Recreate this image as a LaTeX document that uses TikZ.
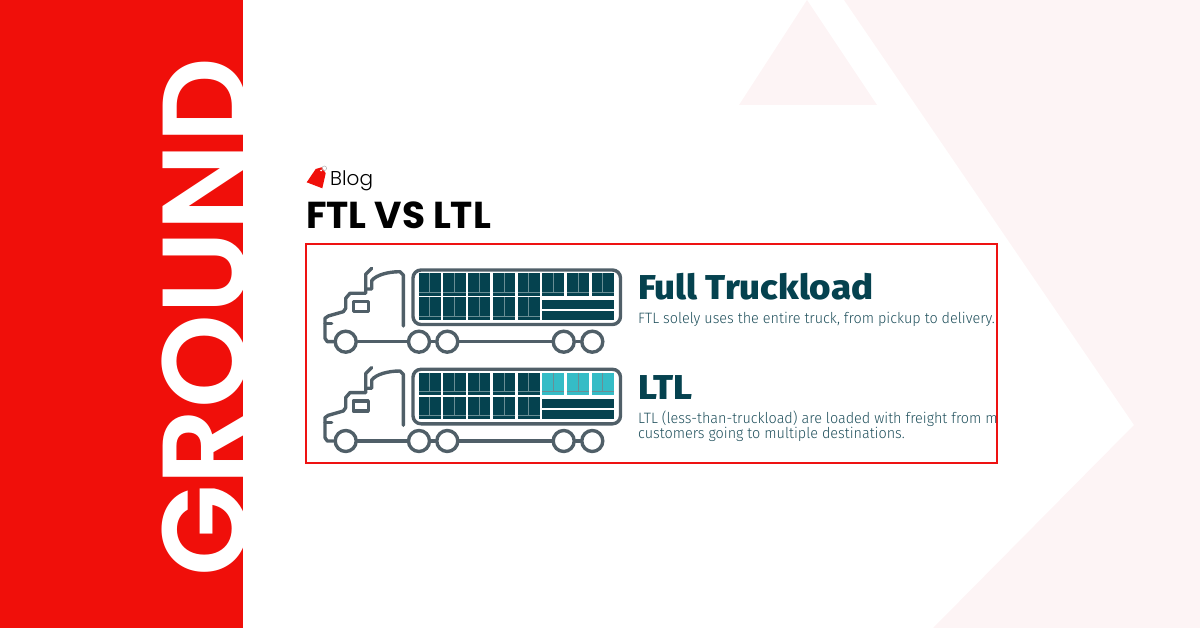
\documentclass[tikz,border=0pt]{standalone}
\usepackage{fontspec}
\newfontfamily\posterfont{Poppins}
\newfontfamily\groundfont{Poppins SemiBold}
\newfontfamily\blogfont{Poppins Light}
\newfontfamily\headfont[FakeStretch=1.065]{Fira Sans ExtraBold}
\newfontfamily\truckfont[FakeStretch=0.96]{Fira Sans Light}
\definecolor{barred}{HTML}{F00F0A}
\definecolor{framered}{HTML}{EE1212}
\definecolor{palepink}{HTML}{FDF4F5}
\definecolor{truckgray}{HTML}{505F68}
\definecolor{crateteal}{HTML}{05424F}
\definecolor{cratepale}{HTML}{35BCC6}
\definecolor{bodyteal}{HTML}{20505C}
\tikzset{
	wheel/.style={circle, draw=truckgray, line width=3.4pt, minimum size=21pt, inner sep=0pt},
	truckline/.style={draw=truckgray, line width=3.4pt, line cap=round, line join=round},
	cargoline/.style={draw=white!40!crateteal, line width=0.7pt},
	lefttext/.style={anchor=base west, inner sep=0pt},
	headline/.style={lefttext, text=crateteal, font=\headfont\fontsize{34.5}{36}\selectfont},
	bodyline/.style={lefttext, text=bodyteal, font=\truckfont\fontsize{15}{16}\selectfont}
}
\newcommand{\cargobox}[3]{%
	\fill[#3] (#1,#2) rectangle ++(22.2,22.7);
	\draw[cargoline] (#1+11.1,#2) -- ++(0,19);
	\draw[cargoline] (#1,#2+19) -- ++(22.2,0);
}
\begin{document}
\begin{tikzpicture}[x=1pt,y=-1pt]
	\useasboundingbox (0,0) rectangle (1200,628);
	% background
	\fill[palepink] (844,0) -- (1200,0) -- (1200,628) -- (933,628) -- (1134,425) -- cycle;
	\fill[palepink] (807,0) -- (877,105) -- (739,105) -- cycle;
	\fill[barred] (0,0) rectangle (243,628);
	\node[lefttext, rotate=90, text=white, font=\groundfont\fontsize{119.5}{120}\selectfont] (ground) at (246,577) {GROUND};
	% heading
	\fill[barred] (306.7,182.3) -- (315.7,169) -- (321.7,167.3) -- (325.7,173.3) -- (322.3,188.3) -- cycle;
	\fill[white] (321,170.5) circle (1);
	\draw[gray!60, line width=0.5pt] (324.3,168.3) circle (2.3);
	\node[lefttext, font=\blogfont\fontsize{20}{22}\selectfont] (blog) at (330,185.7) {Blog};
	\node[lefttext, font=\posterfont\bfseries\fontsize{37.5}{38}\selectfont] (title) at (306,229) {FTL VS LTL};
	\draw[framered, line width=2pt] (306,244) rectangle (997,463);
	% trucks
	\foreach \t/\dy/\crate in {a/0/crateteal, b/99.3/cratepale}{
		\begin{scope}[yshift=-\dy pt]
			\draw[truckline, rounded corners=8pt] (413,270) rectangle (620.5,324.5);
			\foreach \i [evaluate=\i as \xx using 418.7+24.7*\i] in {0,...,4}{
				\cargobox{\xx}{273.3}{crateteal}
				\cargobox{\xx}{297.3}{crateteal}
			}
			\foreach \i [evaluate=\i as \xx using 418.7+24.7*\i] in {5,6,7}{
				\cargobox{\xx}{273.3}{\crate}
			}
			\fill[crateteal] (542.3,300) rectangle (614,308.7);
			\fill[crateteal] (542.3,311) rectangle (614,320);
			\foreach \i/\xx in {1/345.7,2/419,3/447.3,4/563.7,5/592.3}{
				\node[wheel] (wheel\t\i) at (\xx,341.7) {};
			}
			\foreach \i/\j in {1/2,2/3,3/4,4/5}{
				\draw[truckline] (wheel\t\i) -- (wheel\t\j);
			}
			\draw[truckline] (wheel\t1.west) -- (327.3,341.7) -- (325,338.3) -- (325,318.3) -- (328.3,316) -- (343.3,311.7) -- (345.7,308.3) -- (345.7,298.3) -- (350,293.3) -- (365.7,293.3) -- (365.7,274.3) -- (371.7,268.3);
			\draw[truckline] (365.7,289) -- (371.7,289) -- (371.7,280.7) .. controls (376,275) and (388,271.7) .. (400,271.7) -- (403.3,275) -- (403.3,326);
			\draw[truckline] (353.3,301.7) rectangle (368.3,311.7);
			\draw[truckline] (325,323.3) -- (331.7,323.3);
		\end{scope}
	}
	% text of the panel
	\begin{scope}
		\clip (306,244) rectangle (996,463);
		\node[headline] (fullhead) at (638,299.5) {Full Truckload};
		\node[bodyline] (fullbody) at (638,323.5) {FTL solely uses the entire truck, from pickup to delivery.};
		\node[headline] (ltlhead) at (638,399.3) {LTL};
		\node[bodyline] (ltlbody) at (638,423.3) {LTL (less-than-truckload) are loaded with freight from m};
		\node[bodyline] (ltlmore) at (638,438.3) {customers going to multiple destinations.};
	\end{scope}
\end{tikzpicture}
\end{document}
